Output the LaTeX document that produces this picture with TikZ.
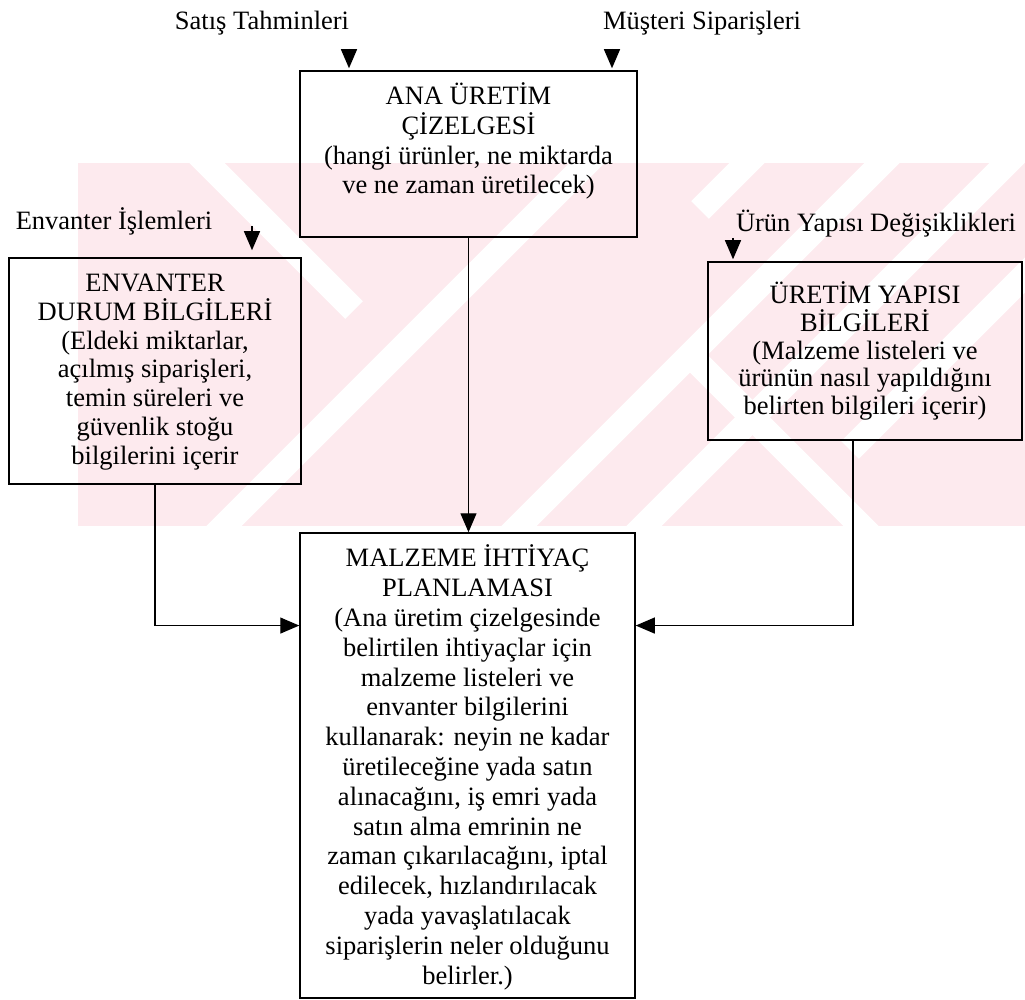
\documentclass[tikz,border=0pt]{standalone}
\usepackage{fontspec}
\setmainfont{Liberation Serif}
\usetikzlibrary{arrows.meta,calc}
\definecolor{wm}{RGB}{253,234,238}
\begin{document}
\begin{tikzpicture}[x=1pt,y=-1pt,
  box/.style={draw, line width=1.5pt, inner sep=0pt},
  txt/.style={align=center, inner sep=0pt, anchor=north, font=\fontsize{26.5}{29.8}\selectfont},
  lbl/.style={inner sep=0pt, anchor=base, font=\fontsize{26.5}{30}\selectfont},
  arr/.style={line width=1.25pt, -{Triangle[length=19pt,width=16pt]}},
  gap/.style={white, line width=25pt},
]
\useasboundingbox (0,0) rectangle (1025,1000);
% faint watermark
\begin{scope}
\clip (78,163) rectangle (1025,526);
\fill[wm] (78,163) rectangle (1025,526);
\draw[gap, line cap=butt] (150,106) -- (354,310);
\draw[gap] (700,50) -- (170,580);
\draw[gap] (995,50) -- (465,580);
\draw[gap] (1120,50) -- (590,580);
\draw[gap] (1250,50) -- (850,450);
\draw[gap] (940,-30) -- (700,210);
\draw[gap, line cap=butt] (690,355) -- (950,615);
\end{scope}

% boxes
\node[box, minimum width=337pt, minimum height=166pt] (mps) at (468.5,154) {};
\node[box, minimum width=292pt, minimum height=226pt] (env) at (155,371) {};
\node[box, minimum width=314pt, minimum height=178pt] (uy) at (865,351) {};
\node[box, minimum width=335pt, minimum height=465pt] (mrp) at (467.5,765.5) {};

% box texts
\node[txt] (tmps) at ($(mps.north)+(0,10)$) {\rule{0pt}{24pt}ANA ÜRETİM\\ÇİZELGESİ\\(hangi ürünler, ne miktarda\\ve ne zaman üretilecek)};
\node[txt, font=\fontsize{26.5}{28.8}\selectfont] (tenv) at ($(env.north)+(0,10)$) {\rule{0pt}{24pt}ENVANTER\\DURUM BİLGİLERİ\\(Eldeki miktarlar,\\açılmış siparişleri,\\temin süreleri ve\\güvenlik stoğu\\bilgilerini içerir};
\node[txt, font=\fontsize{26.5}{27.8}\selectfont] (tuy) at ($(uy.north)+(0,18)$) {\rule{0pt}{24pt}ÜRETİM YAPISI\\BİLGİLERİ\\(Malzeme listeleri ve\\ürünün nasıl yapıldığını\\belirten bilgileri içerir)};
\node[txt] (tmrp) at ($(mrp.north)+(0,10.5)$) {\rule{0pt}{24pt}MALZEME İHTİYAÇ\\PLANLAMASI\\(Ana üretim çizelgesinde\\belirtilen ihtiyaçlar için\\malzeme listeleri ve\\envanter bilgilerini\\kullanarak: neyin ne kadar\\üretileceğine yada satın\\alınacağını, iş emri yada\\satın alma emrinin ne\\zaman çıkarılacağını, iptal\\edilecek, hızlandırılacak\\yada yavaşlatılacak\\siparişlerin neler olduğunu\\belirler.)};

% input labels
\node[lbl] (l1) at (262,30) {Satış Tahminleri};
\node[lbl] (l2) at (702,30) {Müşteri Siparişleri};
\node[lbl] (l3) at (114,230) {Envanter İşlemleri};
\node[lbl] (l4) at (876,232) {Ürün Yapısı Değişiklikleri};

% input arrows
\coordinate (a1) at (349,49);
\coordinate (a2) at (612,49);
\coordinate (a3) at (252,226);
\coordinate (a4) at (733,238);
\draw[arr, shorten >=2pt] (a1) -- (a1 |- mps.north);
\draw[arr, shorten >=2pt] (a2) -- (a2 |- mps.north);
\draw[arr, shorten >=7pt] (a3) -- (a3 |- env.north);
\draw[arr, shorten >=2pt] (a4) -- (a4 |- uy.north);

% connectors
\draw[arr] (mps.south) -- (mps.south |- mrp.north);
\draw[arr] (env.south) |- ($(mrp.north west)!0.2!(mrp.south west)$);
\draw[arr] ([xshift=-12pt]uy.south) |- ($(mrp.north east)!0.2!(mrp.south east)$);
\end{tikzpicture}
\end{document}
